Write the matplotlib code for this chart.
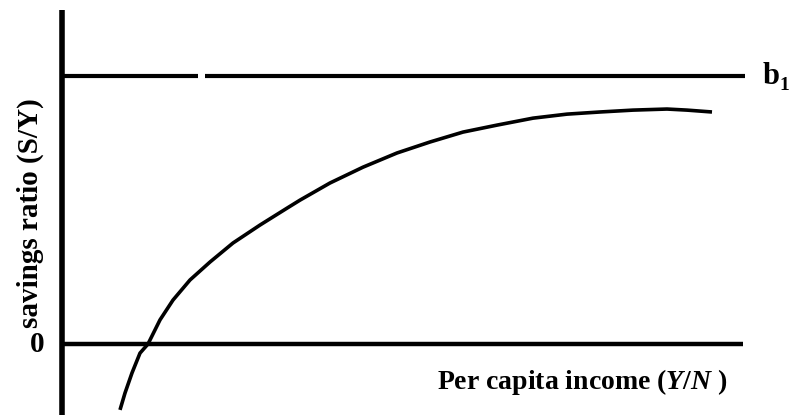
import matplotlib
matplotlib.use("Agg")
import matplotlib.pyplot as plt

plt.rcParams['mathtext.fontset'] = 'custom'
plt.rcParams['mathtext.rm'] = 'Liberation Serif:bold'
plt.rcParams['mathtext.it'] = 'Liberation Serif:bold:italic'

# Data (x = per capita income, y = savings ratio, b1 = 1)
income = [0.58, 0.63, 0.70, 0.78, 0.86, 0.98, 1.11, 1.28, 1.48, 1.71, 1.98, 2.25, 2.38,
          2.68, 3.01, 3.35, 3.68, 4.01, 4.35, 4.71, 5.05, 5.38, 5.71, 6.05, 6.25, 6.50]
savings = [-0.246, -0.183, -0.108, -0.034, 0.0, 0.090, 0.164, 0.239, 0.306, 0.377, 0.444,
           0.507, 0.537, 0.601, 0.660, 0.713, 0.754, 0.791, 0.817, 0.843, 0.858, 0.866,
           0.873, 0.877, 0.873, 0.866]
b1_level = 1.0
b1_x_end = 6.83
zero_x_end = 6.81

fig = plt.figure(figsize=(7.91, 4.15), dpi=100)
ax = fig.add_axes([0, 0, 1, 1])
ax.set_xlim(-0.62, 7.29)
ax.set_ylim(-0.265, 1.284)
ax.axis('off')

# axes lines
ax.plot([0, 0], [-0.3, 1.247], color='black', lw=4.0, solid_capstyle='butt')
ax.plot([0, 1.36], [b1_level, b1_level], color='black', lw=3.0, solid_capstyle='butt')
ax.plot([1.43, b1_x_end], [b1_level, b1_level], color='black', lw=3.0, solid_capstyle='butt')
ax.plot([0, zero_x_end], [0, 0], color='black', lw=3.2, solid_capstyle='butt')

# curve
ax.plot(income, savings, color='black', lw=2.6, solid_capstyle='butt', solid_joinstyle='round')

tf = dict(family='Liberation Serif', weight='bold', color='black')
ax.text(-0.32, 0.489, 'savings ratio (S/Y)', rotation=90, ha='center', va='center', fontsize=21, **tf)
ax.text(-0.25, 0.0, '0', ha='center', va='center', fontsize=21, **tf)
ax.text(7.01, 1.0, 'b', ha='left', va='center', fontsize=22, **tf)
ax.text(7.17, 0.965, '1', ha='left', va='center', fontsize=14, **tf)
ax.text(3.75, -0.142, r'Per capita income ($\mathit{Y/N}$ )', ha='left', va='center', fontsize=20, **tf)

fig.savefig('out.png', dpi=100)
